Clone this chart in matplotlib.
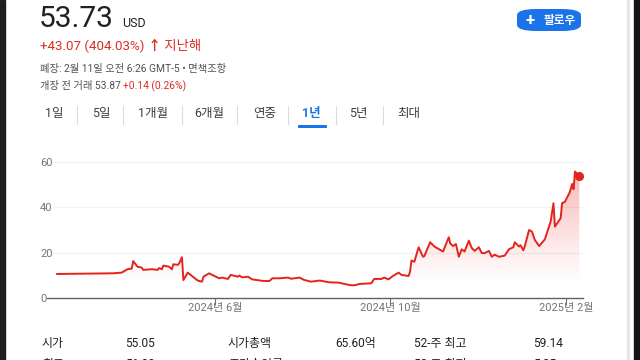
import numpy as np
import pandas as pd
import matplotlib.pyplot as plt
import matplotlib.dates as mdates
from matplotlib.colors import LinearSegmentedColormap
from matplotlib.patches import Rectangle, FancyBboxPatch

plt.rcParams['font.family'] = ['Roboto', 'Noto Sans CJK KR', 'DejaVu Sans']

# 주가 (화면에서 읽은 값)
dates = ['2024-02-12', '2024-03-22', '2024-03-28', '2024-04-01', '2024-04-04', '2024-04-05',
         '2024-04-08', '2024-04-11', '2024-04-12', '2024-04-18', '2024-04-22', '2024-04-23',
         '2024-04-25', '2024-04-26', '2024-04-30', '2024-05-02', '2024-05-03', '2024-05-06',
         '2024-05-07', '2024-05-09', '2024-05-10', '2024-05-13', '2024-05-16', '2024-05-20',
         '2024-05-23', '2024-05-24', '2024-05-28', '2024-05-30', '2024-06-04', '2024-06-06',
         '2024-06-10', '2024-06-12', '2024-06-17', '2024-06-18', '2024-06-20', '2024-06-24',
         '2024-06-27', '2024-07-05', '2024-07-09', '2024-07-11', '2024-07-16', '2024-07-22',
         '2024-07-24', '2024-07-30', '2024-08-02', '2024-08-07', '2024-08-13', '2024-08-20',
         '2024-08-26', '2024-09-03', '2024-09-06', '2024-09-10', '2024-09-18', '2024-09-20',
         '2024-09-25', '2024-09-27', '2024-09-30', '2024-10-03', '2024-10-07', '2024-10-09',
         '2024-10-14', '2024-10-15', '2024-10-16', '2024-10-18', '2024-10-21', '2024-10-24',
         '2024-10-25', '2024-10-29', '2024-11-01', '2024-11-07', '2024-11-11', '2024-11-12',
         '2024-11-14', '2024-11-16', '2024-11-18', '2024-11-20', '2024-11-22', '2024-11-25',
         '2024-11-27', '2024-11-29', '2024-12-02', '2024-12-04', '2024-12-06', '2024-12-09',
         '2024-12-11', '2024-12-13', '2024-12-16', '2024-12-20', '2024-12-23', '2024-12-26',
         '2024-12-27', '2024-12-30', '2024-12-31', '2025-01-02', '2025-01-03', '2025-01-06',
         '2025-01-08', '2025-01-10', '2025-01-13', '2025-01-15', '2025-01-17', '2025-01-21',
         '2025-01-23', '2025-01-24', '2025-01-28', '2025-01-29', '2025-01-31', '2025-02-03',
         '2025-02-04', '2025-02-05', '2025-02-06', '2025-02-07', '2025-02-10']
prices = [10.6, 10.9, 11.2, 12.7, 13.0, 16.3,
          13.8, 13.4, 12.4, 12.7, 12.4, 13.2,
          12.7, 14.3, 13.8, 12.7, 14.9, 14.6,
          15.2, 18.0, 7.9, 11.2, 9.7, 7.7,
          7.2, 9.4, 10.9, 10.2, 8.7, 9.0,
          8.4, 10.2, 9.4, 9.9, 9.1, 9.4,
          8.2, 7.5, 7.5, 8.7, 8.7, 9.0,
          8.5, 9.0, 8.0, 7.2, 7.7, 6.9,
          6.8, 5.7, 5.6, 6.2, 6.5, 8.4,
          8.4, 9.0, 8.2, 9.7, 11.2, 10.2,
          9.7, 11.6, 16.5, 16.0, 22.4, 18.2,
          18.5, 24.6, 22.7, 20.5, 26.8, 24.1,
          22.9, 23.8, 18.2, 21.5, 20.5, 25.3,
          22.1, 20.8, 22.4, 19.8, 19.8, 20.8,
          18.2, 19.1, 18.2, 18.7, 21.5, 22.4,
          24.6, 22.7, 23.3, 21.0, 22.9, 30.0,
          29.3, 25.6, 22.9, 24.4, 25.9, 33.7,
          41.8, 31.5, 35.2, 41.8, 42.5, 46.2,
          48.0, 50.3, 48.0, 55.8, 53.73]

y_ticks = [0, 20, 40, 60]
x_ticks = ['2024-06-01', '2024-10-01', '2025-02-01']
x_labels = ['2024년 6월', '2024년 10월', '2025년 2월']

tabs = ['1일', '5일', '1개월', '6개월', '연중', '1년', '5년', '최대']
tab_x = [45, 92, 138, 194, 253, 302, 349, 397]
sep_x = [77, 123, 182, 237, 288, 336, 383]

stats_row1 = ['시가', '55.05', '시가총액', '65.60억', '52-주 최고', '59.14']
stats_row2 = ['최고', '56.80', '주가수익률', '', '52-주 최저', '5.25']
stats_x = [42, 125, 228, 335, 414, 533]

RED = '#e3241c'
TXT_RED = '#d93025'
BLUE = '#1a73e8'
DARK = '#3c4043'

W, H = 640, 360
fig = plt.figure(figsize=(6.4, 3.6), dpi=100)
fig.patch.set_facecolor('white')


def px(x, y):
    # 픽셀 좌표 -> figure 좌표 (위쪽이 0)
    return x / W, 1 - y / H


def ftext(x, y, s, **kw):
    fx, fy = px(x, y)
    return fig.text(fx, fy, s, **kw)


# 좌우 테두리
fig.add_artist(Rectangle(px(0, 360), 5 / W, 1, transform=fig.transFigure, color='#1e1e1e'))
fig.add_artist(Rectangle(px(634, 360), 6 / W, 1, transform=fig.transFigure, color='#141414'))
fig.add_artist(Rectangle(px(627, 360), 1.5 / W, 1, transform=fig.transFigure, color='#e6e6ea'))

# 헤더
ftext(39, 27, '53.73', fontsize=21.5, color='#202124', va='baseline')
ftext(122, 27, 'USD', fontsize=9, color='#202124', va='baseline')

renderer = fig.canvas.get_renderer()


def run_text(x, y, parts, **kw):
    # 색이 다른 글자를 이어서 그리기
    for s, c, extra in parts:
        t = ftext(x, y, s, color=c, va='baseline', **kw, **extra)
        bb = t.get_window_extent(renderer)
        x = x + bb.width


run_text(40, 50, [('+43.07 (404.03%) ', TXT_RED, {}), ('↑', TXT_RED, {'fontweight': 'bold'}),
                  (' 지난해', TXT_RED, {})], fontsize=9.6)
ftext(40, 72, '폐장: 2월 11일 오전 6:26 GMT-5 • 면책조항', fontsize=7.4, color='#4d5156', va='baseline')
run_text(40, 89, [('개장 전 거래 53.87 ', '#4d5156', {}), ('+0.14 (0.26%)', TXT_RED, {})], fontsize=7.4)

# 팔로우 버튼
bx, by = px(517, 31)
fig.add_artist(FancyBboxPatch((bx, by), 64 / W, 22 / H, transform=fig.transFigure,
                              boxstyle='round,pad=0,rounding_size=0.03', mutation_aspect=H / W * 1.05,
                              facecolor=BLUE, edgecolor='none'))
ftext(530, 20, '+', fontsize=12, color='white', ha='center', va='center', fontweight='bold')
ftext(560, 20.5, '팔로우', fontsize=8.4, color='white', ha='center', va='center', fontweight='bold')

# 탭
for s, x in zip(tabs, tab_x):
    active = s == '1년'
    ftext(x, 114, s, fontsize=9, color=BLUE if active else DARK, va='center',
          fontweight='bold' if active else 'normal')
for x in sep_x:
    fig.add_artist(plt.Line2D([x / W, x / W], [1 - 106 / H, 1 - 124 / H], transform=fig.transFigure,
                              color='#dadce0', lw=0.8))
fig.add_artist(FancyBboxPatch(px(298, 128), 29 / W, 3 / H, transform=fig.transFigure,
                              boxstyle='round,pad=0,rounding_size=0.002', facecolor=BLUE, edgecolor='none'))

# 차트
ax_l, ax_r, ax_t, ax_b = 47, 583, 150, 298
ax = fig.add_axes([ax_l / W, 1 - ax_b / H, (ax_r - ax_l) / W, (ax_b - ax_t) / H])
ax.set_facecolor('none')

d = pd.to_datetime(dates)
xnum = mdates.date2num(d)
ax.set_xlim(mdates.date2num(pd.Timestamp('2024-02-04 22:00')),
            mdates.date2num(pd.Timestamp('2025-02-12 14:00')))
ymax = (ax_b - ax_t) / (45.33 / 20)
ax.set_ylim(0, ymax)

for v in y_ticks[1:]:
    ax.axhline(v, xmin=6 / (ax_r - ax_l), xmax=1, color='#f1f3f4', lw=1, zorder=0)

# 그라데이션 채우기
cmap = LinearSegmentedColormap.from_list('fade', [(1, 0.3, 0.3, 0.0), (0.9, 0.15, 0.15, 0.34)])
yy = np.linspace(0, ymax, 200)
grad = np.clip((yy - 6) / 50, 0, 1)[:, None]
poly = ax.fill_between(xnum, prices, 0, color='none', lw=0)
im = ax.imshow(grad, extent=[xnum[0], xnum[-1], 0, ymax], origin='lower', aspect='auto',
               cmap=cmap, vmin=0, vmax=1, zorder=1)
im.set_clip_path(poly.get_paths()[0], transform=ax.transData)

ax.plot(xnum, prices, color=RED, lw=1.4, zorder=3, solid_joinstyle='round')
ax.plot(xnum[-1], prices[-1], 'o', color=RED, ms=5.5, zorder=4)

ax.set_yticks(y_ticks)
ax.set_yticklabels([str(v) for v in y_ticks])
ax.tick_params(axis='y', length=0, pad=5, labelsize=8, labelcolor='#70757a')
for lab in ax.get_yticklabels():
    lab.set_horizontalalignment('left')

ax.set_xticks(mdates.date2num(pd.to_datetime(x_ticks)))
ax.set_xticklabels(x_labels)
ax.tick_params(axis='x', length=5, width=0.8, color='#70757a', pad=-1.5, labelsize=8,
               labelcolor='#70757a')

for sp in ['top', 'right', 'left']:
    ax.spines[sp].set_visible(False)
ax.spines['bottom'].set_color('#5f6368')
ax.spines['bottom'].set_linewidth(1)

# 하단 통계표 (두 번째 줄은 원본처럼 아래가 잘림)
for row, y in [(stats_row1, 347), (stats_row2, 368)]:
    for s, x in zip(row, stats_x):
        ftext(x, y, s, fontsize=8.6, color='#202124', va='baseline')

fig.savefig('out.png', dpi=100)
